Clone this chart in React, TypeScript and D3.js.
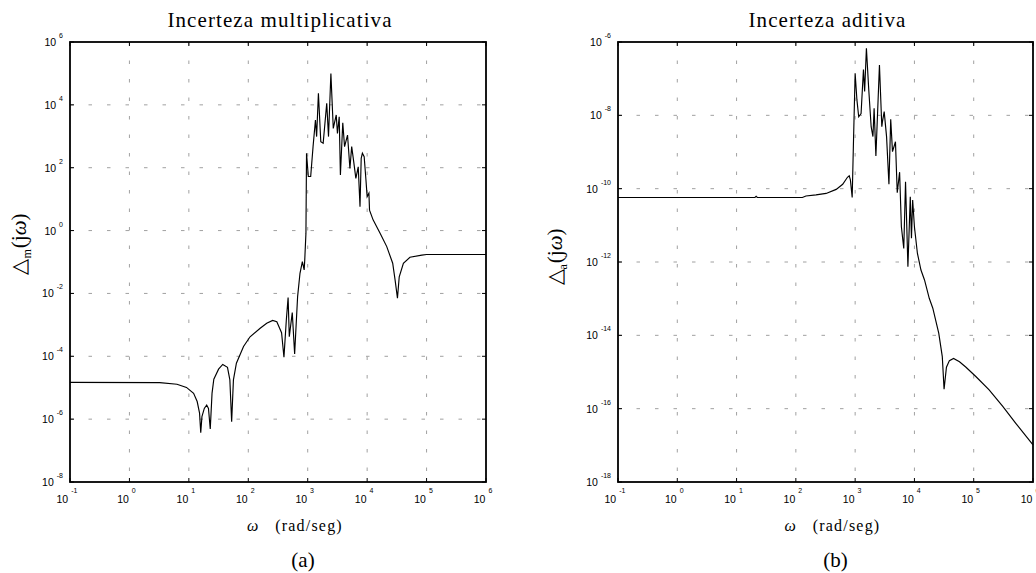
import React from 'react';
import * as d3 from 'd3';

// decades on the frequency axis (both panels)
const xTickExps = [-1, 0, 1, 2, 3, 4, 5, 6];
const multYTickExps = [6, 4, 2, 0, -2, -4, -6, -8];
const addYTickExps = [-6, -8, -10, -12, -14, -16, -18];

// [log10 w, log10 |Dm(jw)|]
const multCurve: [number, number][] = [
  [-1, -4.83], [0.51, -4.84], [0.8, -4.89], [0.96, -4.99], [1.08, -5.18], [1.14, -5.44],
  [1.18, -5.81], [1.2, -6.43], [1.22, -5.92], [1.26, -5.66], [1.3, -5.55], [1.33, -5.66],
  [1.36, -6.31], [1.39, -5.18], [1.42, -4.73], [1.5, -4.41], [1.57, -4.26], [1.65, -4.35],
  [1.69, -4.75], [1.72, -6.08], [1.75, -4.75], [1.8, -4.22], [1.92, -3.69], [2.03, -3.38],
  [2.2, -3.11], [2.31, -2.95], [2.41, -2.86], [2.48, -2.9], [2.56, -3.25], [2.6, -4.03],
  [2.64, -2.85], [2.67, -2.13], [2.69, -3.38], [2.74, -2.61], [2.78, -3.93], [2.83, -2.1],
  [2.87, -1.36], [2.91, -0.99], [2.94, -1.25], [2.95, -0.94], [2.97, -0.09], [2.98, 2.46],
  [3.01, 1.72], [3.05, 1.72], [3.09, 2.67], [3.13, 3.52], [3.15, 2.99], [3.18, 4.37],
  [3.22, 2.83], [3.26, 2.78], [3.32, 4.05], [3.35, 2.99], [3.39, 5.0], [3.43, 3.25],
  [3.48, 3.68], [3.5, 3.09], [3.53, 3.62], [3.55, 1.77], [3.59, 3.43], [3.62, 2.67],
  [3.67, 3.04], [3.71, 1.98], [3.74, 2.67], [3.77, 2.25], [3.81, 1.66], [3.85, 2.03],
  [3.88, 0.76], [3.9, 2.3], [3.92, 2.46], [3.95, 2.35], [3.98, 1.61], [4.0, 1.08],
  [4.03, 1.19], [4.04, 0.65], [4.1, 0.34], [4.22, -0.09], [4.33, -0.51], [4.43, -1.04],
  [4.47, -1.57], [4.51, -2.15], [4.54, -1.47], [4.61, -1.04], [4.72, -0.85], [4.92, -0.78],
  [5.0, -0.76], [6.0, -0.76],
];

// [log10 w, log10 |Da(jw)|]
const addCurve: [number, number][] = [
  [-1, -10.24], [1.31, -10.24], [1.33, -10.21], [1.35, -10.24], [2.11, -10.24], [2.17, -10.2],
  [2.34, -10.17], [2.51, -10.13], [2.68, -10.02], [2.79, -9.88], [2.87, -9.69], [2.9, -9.65],
  [2.92, -9.76], [2.95, -10.24], [2.97, -8.85], [3.0, -6.85], [3.03, -7.58], [3.06, -8.04],
  [3.1, -7.95], [3.14, -6.75], [3.16, -7.35], [3.19, -6.17], [3.23, -7.31], [3.27, -8.31],
  [3.3, -8.58], [3.32, -7.81], [3.35, -9.11], [3.41, -6.63], [3.45, -8.31], [3.46, -8.18],
  [3.49, -7.9], [3.53, -8.58], [3.57, -9.88], [3.6, -8.11], [3.63, -8.99], [3.68, -8.72],
  [3.71, -10.11], [3.75, -9.55], [3.78, -11.04], [3.82, -11.63], [3.85, -9.81], [3.89, -12.13],
  [3.93, -10.22], [3.95, -11.35], [3.97, -10.31], [4.0, -11.04], [4.05, -11.76], [4.11, -12.22],
  [4.17, -12.49], [4.25, -12.99], [4.31, -13.26], [4.41, -13.94], [4.47, -14.58], [4.5, -15.47],
  [4.54, -14.87], [4.59, -14.69], [4.66, -14.63], [4.76, -14.72], [4.87, -14.87], [5.04, -15.13],
  [5.26, -15.49], [5.49, -15.94], [5.71, -16.4], [6.0, -16.99],
];

const TOP = 42;
const BOTTOM = 482;
const tickFont = '"Liberation Sans", Arial, sans-serif';
const serif = '"Liberation Serif", "Times New Roman", serif';

function Panel(props: any) {
  const { x0, x1, yTicks, curve, title, sub, tag, labX, labY, xlabDx, tagDx } = props;
  const yMax = d3.max(yTicks) as number;
  const yMin = d3.min(yTicks) as number;
  const x = d3.scaleLog().domain([1e-1, 1e6]).range([x0, x1]);
  const y = d3.scaleLog().domain([Math.pow(10, yMin), Math.pow(10, yMax)]).range([BOTTOM, TOP]);
  const line = d3.line<[number, number]>()
    .x(d => x(Math.pow(10, d[0])))
    .y(d => y(Math.pow(10, d[1])));
  const cx = (x0 + x1) / 2;

  return (
    <g>
      {/* grid */}
      {xTickExps.slice(1, -1).map(e => (
        <line key={'gx' + e} x1={x(Math.pow(10, e))} x2={x(Math.pow(10, e))} y1={TOP} y2={BOTTOM}
          stroke="#a0a0a0" strokeWidth={1} strokeDasharray="3.5,15" />
      ))}
      {yTicks.slice(1, -1).map((e: number) => (
        <line key={'gy' + e} x1={x0} x2={x1} y1={y(Math.pow(10, e))} y2={y(Math.pow(10, e))}
          stroke="#a0a0a0" strokeWidth={1} strokeDasharray="3.5,15" />
      ))}

      <path d={line(curve) || ''} fill="none" stroke="#000" strokeWidth={1.15} />

      {/* ticks */}
      {xTickExps.map(e => {
        const px = x(Math.pow(10, e));
        return (
          <g key={'tx' + e}>
            <line x1={px} x2={px} y1={BOTTOM} y2={BOTTOM - 4} stroke="#000" />
            <line x1={px} x2={px} y1={TOP} y2={TOP + 4} stroke="#000" />
            <text x={px - 3} y={503} textAnchor="middle" fontFamily={tickFont} fontSize={10.5}>
              10<tspan dx={3} dy={-10} fontSize={7}>{e}</tspan>
            </text>
          </g>
        );
      })}
      {yTicks.map((e: number) => {
        const py = y(Math.pow(10, e));
        return (
          <g key={'ty' + e}>
            <line x1={x0} x2={x0 + 4} y1={py} y2={py} stroke="#000" />
            <line x1={x1} x2={x1 - 4} y1={py} y2={py} stroke="#000" />
            <text x={x0 - 7} y={py + 4} textAnchor="end" fontFamily={tickFont} fontSize={10.5}>
              10<tspan dx={3} dy={-8} fontSize={7}>{e}</tspan>
            </text>
          </g>
        );
      })}

      <rect x={x0} y={TOP} width={x1 - x0} height={BOTTOM - TOP} fill="none" stroke="#000" strokeWidth={1.8} />

      <text x={cx + 2} y={27} textAnchor="middle" fontFamily={serif} fontSize={21} letterSpacing={1.1}>{title}</text>
      <text x={cx + xlabDx} y={531} textAnchor="middle" fontFamily={serif} fontSize={16} letterSpacing={1.2}>
        <tspan fontStyle="italic">ω</tspan>{'\u00a0\u00a0\u00a0(rad/seg)'}
      </text>
      <text x={cx + tagDx} y={567} textAnchor="middle" fontFamily={serif} fontSize={21}>{tag}</text>

      <text transform={`translate(${labX},${labY}) rotate(-90)`} textAnchor="middle" fontFamily={serif} fontSize={21}>
        <tspan fontFamily='"DejaVu Sans", sans-serif' fontWeight={300}>△</tspan>
        <tspan dy={5} fontSize={12}>{sub}</tspan>
        <tspan dy={-5} dx={1}>(j</tspan><tspan fontStyle="italic">ω</tspan><tspan>)</tspan>
      </text>
    </g>
  );
}

export default function App() {
  return (
    <svg width={1036} height={573} style={{ position: 'absolute', left: 0, top: 0, background: '#fff' }}>
      <rect width={1036} height={573} fill="#fff" />
      <Panel x0={70} x1={486} yTicks={multYTickExps} curve={multCurve}
        title="Incerteza multiplicativa" sub="m" tag="(a)" labX={26} labY={244} xlabDx={17} tagDx={25} />
      <Panel x0={618} x1={1033} yTicks={addYTickExps} curve={addCurve}
        title="Incerteza aditiva" sub="a" tag="(b)" labX={562} labY={257} xlabDx={7} tagDx={10} />
    </svg>
  );
}
